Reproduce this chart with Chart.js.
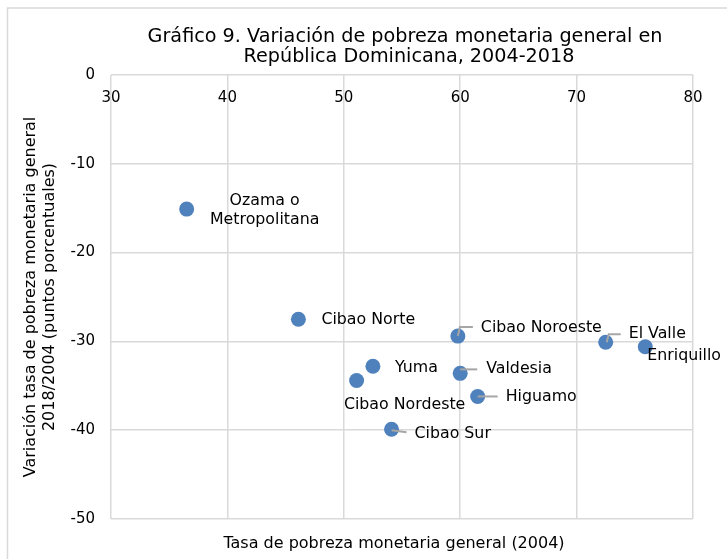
<!DOCTYPE html>
<html>
<head>
<meta charset="utf-8">
<script src="https://cdn.jsdelivr.net/npm/chart.js@4.4.1/dist/chart.umd.min.js"></script>
<style>
  html, body { margin: 0; padding: 0; background: #fff; }
  #wrap { width: 727px; height: 559px; position: relative; }
</style>
</head>
<body>
<div id="wrap"><canvas id="chart" width="727" height="559"></canvas></div>
<script>
// data
const regions = ['Ozama o\nMetropolitana', 'Cibao Norte', 'Cibao Noroeste', 'El Valle', 'Enriquillo',
                 'Yuma', 'Cibao Nordeste', 'Valdesia', 'Higuamo', 'Cibao Sur'];
const poverty2004 = [36.5, 46.1, 59.8, 72.5, 75.9, 52.5, 51.1, 60.0, 61.5, 54.1];
const change2018 = [-15.1, -27.5, -29.4, -30.1, -30.6, -32.8, -34.4, -33.6, -36.2, -39.9];

const chartTitle = ['Gráfico 9. Variación de pobreza monetaria general en', 'República Dominicana, 2004-2018'];
const xTitle = 'Tasa de pobreza monetaria general (2004)';
const yTitle = ['Variación tasa de pobreza monetaria general', '2018/2004 (puntos porcentuales)'];

// where each label sits relative to its point (px), and its leader line if any
const labelSpots = [
    { dx: 78, dy: -8, align: 'center' },
    { dx: 23, dy: 1 },
    { dx: 23, dy: -8, leader: [[0, 0], [2, -9], [15, -9]] },
    { dx: 23, dy: -8, leader: [[1, 0], [3, -8], [15, -8]] },
    { dx: 2, dy: 9 },
    { dx: 22, dy: 2 },
    { dx: 48, dy: 24, align: 'center' },
    { dx: 26, dy: -4, leader: [[0, -4], [17, -4]] },
    { dx: 28, dy: 0, leader: [[0, 0], [20, 0]] },
    { dx: 23, dy: 5, leader: [[0, 1], [15, 3]] }
];

const font = 'DejaVu Sans';
Chart.defaults.font.family = font;
Chart.defaults.color = '#000';

const frame = {
    id: 'frame',
    beforeDraw(chart) {
        const ctx = chart.ctx;
        ctx.save();
        ctx.strokeStyle = '#d9d9d9';
        ctx.lineWidth = 1.5;
        ctx.strokeRect(7.5, 8, 800, 600);
        ctx.restore();
    }
};

const titles = {
    id: 'titles',
    afterDraw(chart) {
        const ctx = chart.ctx;
        const area = chart.chartArea;
        const cx = (area.left + area.right) / 2;
        ctx.save();
        ctx.fillStyle = '#000';
        ctx.textAlign = 'center';
        ctx.textBaseline = 'alphabetic';
        ctx.font = '19.2px "' + font + '"';
        ctx.fillText(chartTitle[0], cx + 3, 41.5);
        ctx.fillText(chartTitle[1], cx + 7, 61.5);
        ctx.font = '16px "' + font + '"';
        ctx.textBaseline = 'middle';
        ctx.fillText(xTitle, cx - 8, 544);
        ctx.restore();
    }
};

const pointLabels = {
    id: 'pointLabels',
    afterDatasetsDraw(chart) {
        const ctx = chart.ctx;
        const pts = chart.getDatasetMeta(0).data;
        ctx.save();
        ctx.font = '15.8px "' + font + '"';
        ctx.textBaseline = 'middle';
        pts.forEach((p, i) => {
            const spot = labelSpots[i];
            if (spot.leader) {
                ctx.strokeStyle = '#a6a6a6';
                ctx.lineWidth = 2;
                ctx.beginPath();
                spot.leader.forEach(([lx, ly], k) => {
                    if (k === 0) ctx.moveTo(p.x + lx, p.y + ly);
                    else ctx.lineTo(p.x + lx, p.y + ly);
                });
                ctx.stroke();
            }
            ctx.fillStyle = '#000';
            ctx.textAlign = spot.align || 'left';
            regions[i].split('\n').forEach((line, k) => {
                ctx.fillText(line, p.x + spot.dx, p.y + spot.dy + k * 18.6);
            });
        });
        ctx.restore();
    }
};

new Chart(document.getElementById('chart'), {
    type: 'scatter',
    data: {
        datasets: [{
            label: 'Regiones',
            data: poverty2004.map((x, i) => ({ x: x, y: change2018[i] })),
            backgroundColor: '#4f81bd',
            borderColor: '#4f81bd',
            borderWidth: 0,
            pointRadius: 7.5,
            pointHoverRadius: 7.5
        }]
    },
    options: {
        responsive: false,
        animation: false,
        events: [],
        layout: { padding: { top: 75, bottom: 40, left: 0, right: 34 } },
        plugins: {
            legend: { display: false },
            tooltip: { enabled: false }
        },
        scales: {
            x: {
                type: 'linear',
                position: { y: 0 },
                min: 30,
                max: 80,
                ticks: { stepSize: 10, padding: 14, font: { size: 15 } },
                grid: { color: '#d9d9d9', lineWidth: 1.5, drawTicks: false },
                border: { display: false }
            },
            y: {
                min: -50,
                max: 0,
                ticks: { stepSize: 10, padding: 16, font: { size: 15 } },
                grid: { color: '#d9d9d9', lineWidth: 1.5, drawTicks: false },
                border: { display: false },
                title: {
                    display: true,
                    text: yTitle,
                    font: { size: 16, lineHeight: 1.2 },
                    padding: { top: 21, bottom: 0 }
                },
                afterFit(scale) { scale.width = 111; }
            }
        }
    },
    plugins: [frame, titles, pointLabels]
});
</script>
</body>
</html>
